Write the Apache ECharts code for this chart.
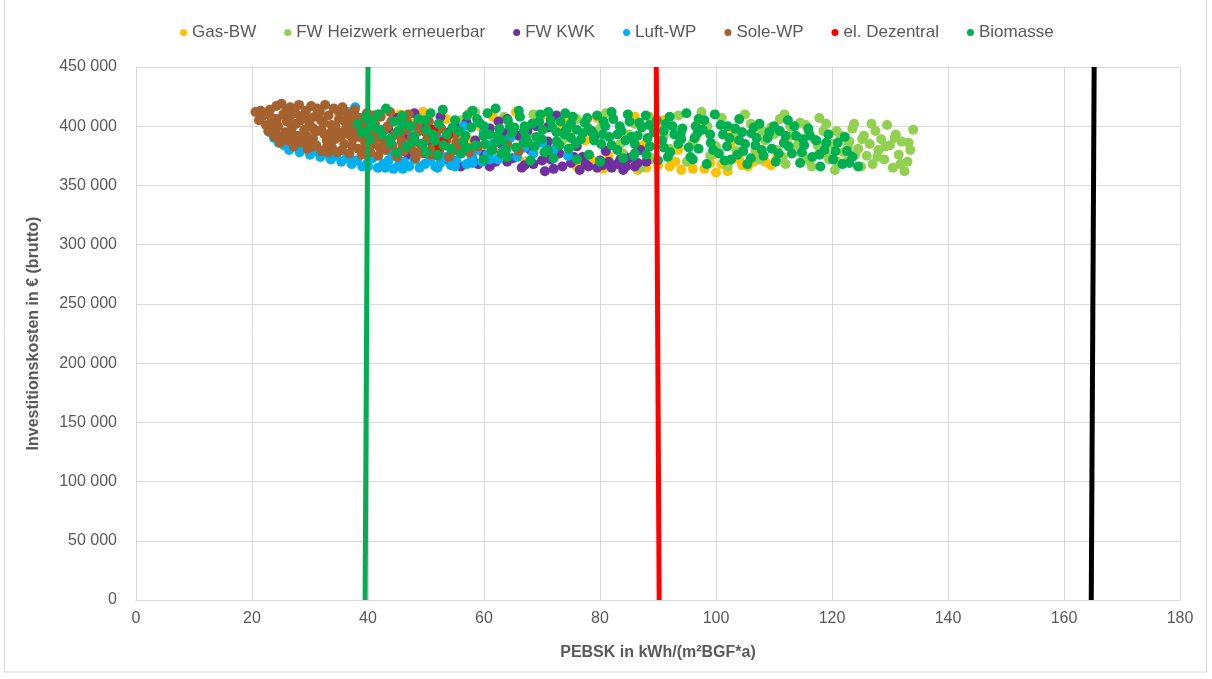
<!DOCTYPE html>
<html>
<head>
<meta charset="utf-8">
<title>PEBSK vs Investitionskosten</title>
<script src="https://cdn.jsdelivr.net/npm/echarts@6/dist/echarts.min.js"></script>
<style>
  html, body { margin: 0; padding: 0; background: #fff; }
  #chart { width: 1212px; height: 679px; }
</style>
</head>
<body>
<div id="chart"></div>
<script>
// --- Daten ---
const seriesNames = ['Gas-BW', 'FW Heizwerk erneuerbar', 'FW KWK', 'Luft-WP', 'Sole-WP', 'el. Dezentral', 'Biomasse'];
const seriesColors = ['#FFC000', '#92D050', '#7030A0', '#00B0F0', '#A5622F', '#FF0000', '#00B050'];

const xTicks = [0, 20, 40, 60, 80, 100, 120, 140, 160, 180];
const yTicks = [0, 50000, 100000, 150000, 200000, 250000, 300000, 350000, 400000, 450000];

const gasBW = [
  [45.5,410000],[47.5,402000],[49.5,412000],[51.5,396000],[53.5,406000],[55.5,390000],[57.5,411000],[59.5,399000],
  [61.5,408000],[63.5,385000],[65.5,412000],[67.5,393000],[69.5,404000],[71.5,379000],[73.5,398000],[75.5,372000],
  [77.5,388000],[79.5,407000],[81.5,375000],[83.5,395000],[85.5,368000],[87.5,384000],[89.0,372000],[90.5,398000],
  [92.0,366000],[93.5,380000],[95.0,370000],[96.5,390000],[98.0,364000],[99.5,376000],[101.0,368000],[102.5,385000],
  [104.0,372000],[105.5,366000],[107.0,378000],[108.5,370000],[110.5,374000],[100.0,361000],[94.0,363000],[88.0,365000],
  [82.0,368000],[76.0,366000],[60.5,379000],[67.0,370000],[74.0,405000],[86.0,408000],[91.0,405000],[97.0,402000],
  [103.0,395000],[58.0,388000],[64.5,398000],[70.5,410000],[112.0,385000],
  [86.5,363000],[90.0,367000],[93.0,370000],[96.0,364000],[99.0,369000],[102.0,362000],[104.5,367000],[106.5,370000],
  [84.0,370000],[109.5,367000],[78.5,372000],[80.5,364000]
];

const fwHeizwerk = [
  [56.0,405000],[58.5,412000],[61.0,398000],[63.5,408000],[66.0,392000],[68.5,410000],[71.0,400000],[73.5,388000],
  [76.0,406000],[78.5,395000],[81.0,411000],[83.5,385000],[86.0,402000],[88.5,408000],[91.0,392000],[93.5,409000],
  [96.0,386000],[98.5,400000],[101.0,407000],[103.5,379000],[104.5,395000],[106.0,402000],[107.5,372000],[108.5,388000],
  [109.5,399000],[110.5,380000],[111.0,406000],[112.0,368000],[113.0,392000],[114.0,384000],[115.0,375000],[115.5,401000],
  [116.5,366000],[117.0,389000],[118.0,380000],[118.5,396000],[119.5,372000],[120.0,385000],[120.5,363000],[121.5,392000],
  [122.0,378000],[122.5,370000],[123.0,387000],[123.5,398000],[124.5,381000],[125.0,366000],[125.5,392000],[126.0,375000],
  [126.5,385000],[127.0,368000],[127.5,396000],[128.0,380000],[128.5,389000],[129.0,372000],[129.5,401000],[130.0,384000],
  [130.5,365000],[131.0,393000],[131.5,376000],[132.0,387000],[132.5,362000],[133.0,370000],[133.5,380000],[134.0,397000],
  [102.0,366000],[99.0,375000],[95.0,370000],[92.0,381000],[89.0,373000],[114.5,403000],[119.0,402000],[105.0,410000],
  [97.5,412000],[87.0,365000],[84.0,377000],[110.0,393000],[116.0,395000],[123.8,402000],[121.0,370000],
  [100.0,383000],[103.0,390000],[106.8,380000],[108.0,396000],[111.5,374000],[112.8,400000],[114.2,390000],[116.0,371000],
  [117.5,384000],[119.0,376000],[120.8,396000],[122.8,384000],[124.0,376000],[125.2,389000],[126.8,402000],[127.8,374000],
  [129.2,383000],[130.8,390000],[131.8,368000],[133.2,386000],[94.0,395000],[90.0,400000],[85.0,393000],[80.0,398000],
  [75.0,395000],[111.8,410000],[117.8,407000]
];

const fwKWK = [
  [40.5,404000],[42.0,410000],[43.5,398000],[45.0,407000],[46.5,392000],[48.0,411000],[49.5,400000],[51.0,386000],
  [52.5,408000],[54.0,395000],[55.5,381000],[57.0,403000],[58.5,388000],[60.0,376000],[61.0,398000],[62.0,370000],
  [63.0,385000],[64.0,406000],[65.0,373000],[66.0,392000],[67.0,367000],[68.0,380000],[69.0,400000],[70.0,371000],
  [71.0,387000],[72.0,364000],[73.0,377000],[74.0,395000],[75.0,369000],[76.0,383000],[77.0,374000],[78.0,366000],
  [79.0,390000],[80.0,371000],[81.0,379000],[82.0,365000],[83.0,368000],[84.0,363000],[85.0,373000],[86.0,366000],
  [87.0,380000],[88.0,370000],[56.0,366000],[59.0,368000],[66.5,365000],[70.5,362000],[76.5,363000],[80.5,367000],
  [83.5,372000],[62.5,404000],[72.5,409000],[53.5,372000],[47.0,376000],[44.0,383000],[78.5,396000],
  [58.0,373000],[61.0,366000],[64.0,370000],[68.5,368000],[71.5,372000],[73.5,366000],[75.5,374000],[77.5,368000],
  [79.5,365000],[81.5,370000],[84.5,366000],[86.5,369000],[63.5,394000],[67.5,396000],[71.0,399000],[55.0,400000],
  [50.0,395000],[46.0,402000]
];

const luftWP = [
  [23.0,395000],[23.8,390000],[24.6,386000],[25.5,384000],[26.4,380000],[27.3,383000],[28.2,378000],[29.1,381000],
  [30.0,376000],[30.9,379000],[31.8,374000],[32.7,377000],[33.6,372000],[34.5,375000],[35.4,370000],[36.3,373000],
  [37.2,368000],[38.1,371000],[37.8,416000],[36.5,412000],[39.0,366000],[39.9,369000],[40.8,373000],[41.7,365000],
  [42.6,368000],[43.5,371000],[44.4,364000],[45.3,367000],[46.2,370000],[47.1,366000],[48.0,372000],[48.9,365000],
  [49.8,368000],[50.7,371000],[51.6,366000],[52.5,369000],[53.4,374000],[54.3,367000],[55.2,371000],[56.1,377000],
  [57.0,368000],[57.9,373000],[58.8,380000],[59.7,370000],[60.6,376000],[61.5,385000],[62.4,372000],[63.3,379000],
  [64.5,390000],[65.7,374000],[67.0,382000],[68.5,377000],[70.0,386000],[72.0,380000],[74.5,375000],[47.5,395000],
  [52.0,390000],[56.5,400000],[60.0,395000],
  [24.0,392000],[26.0,386000],[28.0,383000],[31.0,379000],[34.0,376000],[37.0,372000],[40.0,366000],[43.0,365000],
  [46.0,364000],[49.0,366000],[52.0,365000],[55.0,366000],[58.0,369000],[61.0,372000],[44.0,378000],[50.0,377000]
];

const soleWP = [
  [20.6,412000],[21.2,405000],[21.5,413000],[22.0,409000],[22.4,401000],[22.8,396000],[23.1,414000],[23.4,407000],
  [23.9,391000],[24.2,417000],[24.5,400000],[24.8,386000],[25.1,419000],[25.4,410000],[25.7,395000],[26.0,404000],
  [26.3,388000],[26.6,416000],[26.9,399000],[27.2,383000],[27.5,411000],[27.8,392000],[28.1,418000],[28.4,405000],
  [28.7,386000],[29.0,397000],[29.3,413000],[29.6,381000],[29.9,402000],[30.2,417000],[30.5,390000],[30.8,408000],
  [31.1,384000],[31.4,396000],[31.7,412000],[32.0,379000],[32.3,403000],[32.6,418000],[32.9,388000],[33.2,409000],
  [33.5,394000],[33.8,382000],[34.1,415000],[34.4,400000],[34.7,378000],[35.0,406000],[35.3,391000],[35.6,416000],
  [35.9,385000],[36.2,398000],[36.5,410000],[36.8,377000],[37.1,403000],[37.4,389000],[37.7,414000],[38.0,395000],
  [38.3,381000],[38.6,407000],[38.9,376000],[39.2,399000],[39.5,386000],[39.8,411000],[40.1,392000],[40.4,378000],
  [40.7,404000],[41.0,385000],[41.4,396000],[41.8,375000],[42.2,408000],[42.6,389000],[43.0,380000],[43.4,400000],
  [43.8,412000],[44.2,384000],[44.6,393000],[45.0,374000],[45.4,405000],[45.8,387000],[46.2,379000],[46.6,397000],
  [47.0,410000],[47.4,382000],[47.8,391000],[48.2,373000],[48.6,402000],[49.0,385000],[49.5,377000],[50.0,395000],
  [50.5,404000],[51.0,381000],[51.5,389000],[52.0,375000],[52.6,398000],[53.2,384000],[53.8,392000],[54.5,379000],
  [55.2,386000],[56.0,382000],[57.5,378000],[59.0,383000],[61.5,380000],[64.0,385000],[66.0,379000],
  [22.5,411000],[23.6,403000],[24.0,396000],[25.0,391000],[25.9,413000],[26.5,408000],[27.0,393000],[27.6,402000],
  [28.0,388000],[28.8,409000],[29.4,392000],[30.0,385000],[30.6,398000],[31.2,415000],[31.9,405000],[32.5,393000],
  [33.0,384000],[33.7,401000],[34.3,389000],[35.0,412000],[35.5,380000],[36.0,404000],[36.7,393000],[37.3,383000],
  [37.9,408000],[38.5,391000],[39.0,402000],[39.7,380000],[40.3,398000],[40.9,409000],[41.5,390000],[42.0,382000],
  [42.8,397000],[43.3,386000],[44.0,404000],[44.8,377000],[45.5,392000],[46.0,383000],[46.8,403000],[47.5,389000],
  [48.0,378000],[48.8,396000],[49.3,383000],[50.2,389000],[50.8,376000],[51.8,395000],[52.3,380000],[53.5,388000],
  [54.0,374000],[55.0,393000],[24.3,406000],[26.8,410000],[29.7,407000],[32.0,397000],[34.9,395000],[37.6,398000],
  [41.2,402000],[27.3,388000],[30.4,383000],[33.1,378000]
];

const elDezentral = [
  [51.2,397000],[52.6,385000],[53.0,387000],[53.8,393000],[52.3,383000]
];

const biomasse = [
  [38.2,402000],[38.9,395000],[39.6,408000],[40.3,389000],[41.0,399000],[41.7,410000],[42.4,393000],[43.1,415000],
  [43.8,386000],[44.5,404000],[45.2,396000],[45.9,409000],[46.6,383000],[47.3,400000],[48.0,391000],[48.7,406000],
  [49.4,385000],[50.1,397000],[50.8,411000],[51.5,388000],[52.2,402000],[52.9,414000],[53.6,393000],[54.3,381000],
  [55.0,405000],[55.7,396000],[56.4,387000],[57.1,409000],[57.8,399000],[58.5,384000],[59.2,403000],[59.9,392000],
  [60.6,411000],[61.3,379000],[62.0,415000],[62.7,398000],[63.4,388000],[64.1,405000],[64.8,394000],[65.5,382000],
  [66.2,408000],[66.9,396000],[67.6,386000],[68.3,402000],[69.0,391000],[69.7,410000],[70.4,378000],[71.1,412000],
  [71.8,399000],[72.5,387000],[73.2,404000],[73.9,393000],[74.6,381000],[75.3,408000],[76.0,397000],[76.7,389000],
  [77.4,403000],[78.1,376000],[78.8,394000],[79.5,409000],[80.2,385000],[80.9,400000],[81.6,391000],[82.3,406000],
  [83.0,380000],[83.7,396000],[84.4,388000],[85.1,404000],[85.8,375000],[86.5,392000],[87.2,399000],[87.9,409000],
  [88.6,383000],[89.3,395000],[90.0,371000],[90.7,388000],[91.4,402000],[92.1,378000],[92.8,393000],[93.5,385000],
  [94.2,398000],[94.9,411000],[95.6,374000],[96.3,390000],[97.0,381000],[97.7,397000],[98.4,368000],[99.1,386000],
  [99.8,410000],[100.5,377000],[101.2,393000],[101.9,383000],[102.6,372000],[103.3,398000],[104.0,388000],[104.7,379000],
  [105.4,368000],[106.1,394000],[106.8,384000],[107.5,402000],[108.2,375000],[108.9,390000],[109.6,381000],[110.3,370000],
  [111.0,396000],[111.7,386000],[112.4,405000],[113.1,377000],[113.8,392000],[114.5,369000],[115.2,384000],[115.9,398000],
  [116.6,374000],[117.3,388000],[118.0,366000],[118.7,380000],[119.4,393000],[120.2,372000],[121.0,386000],[121.8,368000],
  [122.6,379000],[123.5,374000],[124.5,366000],
  [56.0,377000],[60.0,372000],[64.0,374000],[68.0,371000],[72.0,373000],[76.0,372000],[80.0,370000],[84.0,373000],
  [88.0,376000],[58.0,413000],[66.0,413000],[74.0,411000],[82.0,412000],[92.0,408000],[97.0,406000],[104.0,406000],
  [110.0,400000],[45.0,378000],[50.0,378000],[61.0,393000],[67.0,400000],[75.0,390000],[83.0,393000],[91.0,396000],
  [99.0,393000],[107.0,390000],[115.0,389000],[62.0,386000],[70.0,389000],[78.0,398000],[86.0,385000],[94.0,389000],
  [102.0,400000],[64.5,400000],[72.5,395000],[80.5,393000],[88.5,401000],[96.5,400000],[104.5,395000],[112.5,383000],
  [40.8,404000],[42.0,397000],[44.0,390000],[46.0,402000],[47.8,387000],[49.8,405000],[51.2,393000],[53.0,384000],
  [54.6,399000],[56.8,392000],[58.8,406000],[60.2,385000],[62.4,392000],[63.8,380000],[65.2,399000],[67.2,391000],
  [68.8,383000],[70.1,397000],[71.5,405000],[73.0,384000],[74.3,398000],[75.8,385000],[77.0,394000],[79.0,388000],
  [80.6,404000],[82.0,384000],[83.4,400000],[85.4,391000],[86.8,403000],[88.2,390000],[89.8,405000],[91.0,382000],
  [92.5,400000],[93.9,392000],[95.3,382000],[96.8,394000],[98.0,405000],[99.5,380000],[100.8,401000],[102.3,390000],
  [103.7,376000],[105.0,385000],[106.5,399000],[107.9,380000],[109.2,395000],[110.8,377000],[112.0,392000],[113.5,400000],
  [114.8,378000],[116.2,392000],[117.8,376000],[119.0,386000],[120.6,379000],[122.2,391000],[123.0,369000],[101.5,371000],
  [96.0,372000],[106.0,373000],[91.7,374000],[86.0,377000],[71.0,380000],[63.0,377000],[57.0,382000],[52.0,376000],
  [69.5,404000],[77.8,407000],[84.8,410000],[60.0,400000],[66.8,386000],[75.0,402000]
];

// Grenzlinien (senkrecht, leicht schräg wie im Original)
const lineGreen = [[39.5,0],[40.0,450000]];
const lineRed = [[90.2,0],[89.7,450000]];
const lineBlack = [[164.7,0],[165.2,450000]];

const scatterData = [gasBW, fwHeizwerk, fwKWK, luftWP, soleWP, elDezentral, biomasse];

// ========================
// Diagramm
// ========================
const FONT = '"Liberation Sans", Arial, sans-serif';
const TEXT_COLOR = '#595959';

const fmtThousands = v => String(v).replace(/\B(?=(\d{3})+(?!\d))/g, ' ');

const chart = echarts.init(document.getElementById('chart'), null, { renderer: 'canvas' });

const series = seriesNames.map((name, i) => ({
  name: name,
  type: 'scatter',
  data: scatterData[i],
  symbol: 'circle',
  symbolSize: 10,
  itemStyle: { color: seriesColors[i], opacity: 1 },
  z: 2 + i,
  animation: false
}));

const vLine = (data, color) => ({
  type: 'line',
  data: data,
  symbol: 'none',
  lineStyle: { color: color, width: 5 },
  z: 20,
  silent: true,
  animation: false
});

series.push(vLine(lineGreen, '#00B050'));
series.push(vLine(lineRed, '#FF0000'));
series.push(vLine(lineBlack, '#000000'));

chart.setOption({
  backgroundColor: '#ffffff',
  textStyle: { fontFamily: FONT },
  graphic: [{
    type: 'rect',
    shape: { x: 4.5, y: -5, width: 1202, height: 677 },
    style: { fill: 'none', stroke: '#d9d9d9', lineWidth: 1 },
    silent: true
  }],
  legend: {
    data: seriesNames,
    top: 19,
    left: 175,
    icon: 'circle',
    itemWidth: 7,
    itemHeight: 7,
    itemGap: 28,
    textStyle: { color: TEXT_COLOR, fontSize: 17, fontFamily: FONT }
  },
  grid: { left: 136, right: 32, top: 67, bottom: 79 },
  xAxis: {
    type: 'value',
    min: xTicks[0],
    max: xTicks[xTicks.length - 1],
    interval: 20,
    name: 'PEBSK in kWh/(m²BGF*a)',
    nameLocation: 'middle',
    nameGap: 45,
    nameTextStyle: { color: TEXT_COLOR, fontSize: 16, fontWeight: 'bold', fontFamily: FONT },
    axisLine: { lineStyle: { color: '#d9d9d9' } },
    axisTick: { show: false },
    axisLabel: { color: TEXT_COLOR, fontSize: 16, margin: 11 },
    splitLine: { show: true, lineStyle: { color: '#d9d9d9' } }
  },
  yAxis: {
    type: 'value',
    min: yTicks[0],
    max: yTicks[yTicks.length - 1],
    interval: 50000,
    name: 'Investitionskosten in € (brutto)',
    nameLocation: 'middle',
    nameGap: 94,
    nameTextStyle: { color: TEXT_COLOR, fontSize: 16, fontWeight: 'bold', fontFamily: FONT },
    axisLine: { show: true, lineStyle: { color: '#d9d9d9' } },
    axisTick: { show: false },
    axisLabel: { color: TEXT_COLOR, fontSize: 16, margin: 19, formatter: v => fmtThousands(v) },
    splitLine: { show: true, lineStyle: { color: '#d9d9d9' } }
  },
  series: series
});
</script>
</body>
</html>
